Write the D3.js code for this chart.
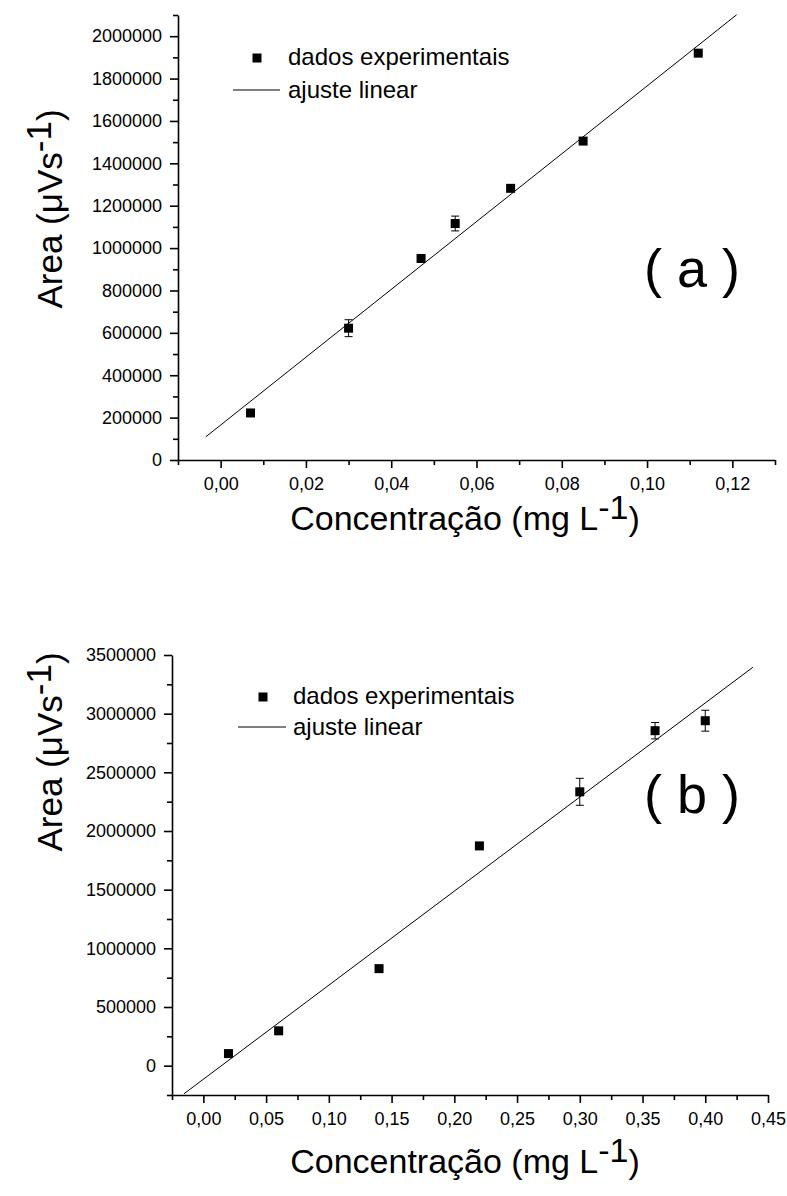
<!DOCTYPE html>
<html>
<head>
<meta charset="utf-8">
<script src="https://cdn.jsdelivr.net/npm/d3@7"></script>
<style>
  body { margin: 0; background: #fff; }
  svg text { font-family: Arial, "Liberation Sans", Helvetica, sans-serif; }
  .axis path, .axis line { stroke: #000; stroke-width: 1.6; }
  .axis text { font-size: 18px; fill: #000; font-family: Arial, "Liberation Sans", Helvetica, sans-serif; }
</style>
</head>
<body>
<svg width="787" height="1196"></svg>
<script>
// panel (a)
const concA = [0.007, 0.030, 0.047, 0.055, 0.068, 0.085, 0.112];
const areaA = [222000, 622000, 951000, 1116000, 1282000, 1505000, 1920000];
const errA = [8000, 40000, 8000, 35000, 8000, 8000, 8000];
const fitXA = [-0.0035, 0.121];
const fitYA = [109000, 2101000];
const xTicksA = [0, 0.02, 0.04, 0.06, 0.08, 0.10, 0.12];
const xMinorA = [-0.01, 0.01, 0.03, 0.05, 0.07, 0.09, 0.11, 0.13];
const yTicksA = [0, 200000, 400000, 600000, 800000, 1000000, 1200000, 1400000, 1600000, 1800000, 2000000];
const yMinorA = [100000, 300000, 500000, 700000, 900000, 1100000, 1300000, 1500000, 1700000, 1900000, 2100000];

// panel (b)
const concB = [0.02, 0.06, 0.14, 0.22, 0.30, 0.36, 0.40];
const areaB = [103000, 297000, 827000, 1873000, 2334000, 2855000, 2940000];
const errB = [10000, 10000, 10000, 10000, 115000, 70000, 89000];
const fitXB = [-0.0155, 0.438];
const fitYB = [-240000, 3396000];
const xTicksB = [0, 0.05, 0.10, 0.15, 0.20, 0.25, 0.30, 0.35, 0.40, 0.45];
const xMinorB = [-0.025, 0.025, 0.075, 0.125, 0.175, 0.225, 0.275, 0.325, 0.375, 0.425];
const yTicksB = [0, 500000, 1000000, 1500000, 2000000, 2500000, 3000000, 3500000];
const yMinorB = [-250000, 250000, 750000, 1250000, 1750000, 2250000, 2750000, 3250000];

const legendLabels = ["dados experimentais", "ajuste linear"];
const panelLabels = ["( a )", "( b )"];

const svg = d3.select("svg");
const fmtX = (d) => d3.format(".2f")(d).replace(".", ",");

function drawPanel(p) {
  const x = d3.scaleLinear().domain(p.xDomain).range([p.left, p.right]);
  const y = d3.scaleLinear().domain(p.yDomain).range([p.bottom, p.top]);
  const g = svg.append("g");

  // minor ticks
  g.append("g").attr("class", "axis")
    .attr("transform", `translate(0,${p.bottom})`)
    .call(d3.axisBottom(x).tickValues(p.xMinor).tickSize(5).tickFormat(""))
    .select(".domain").remove();
  g.append("g").attr("class", "axis")
    .attr("transform", `translate(${p.left},0)`)
    .call(d3.axisLeft(y).tickValues(p.yMinor).tickSize(5).tickFormat(""))
    .select(".domain").remove();

  // major ticks
  g.append("g").attr("class", "axis")
    .attr("transform", `translate(0,${p.bottom})`)
    .call(d3.axisBottom(x).tickValues(p.xTicks).tickSize(8).tickSizeOuter(0).tickPadding(9).tickFormat(fmtX));
  g.append("g").attr("class", "axis")
    .attr("transform", `translate(${p.left},0)`)
    .call(d3.axisLeft(y).tickValues(p.yTicks).tickSize(8).tickSizeOuter(0).tickPadding(8).tickFormat(d3.format("d")));

  // fit line
  g.append("path")
    .datum(p.fitX.map((v, i) => [v, p.fitY[i]]))
    .attr("fill", "none").attr("stroke", "#000").attr("stroke-width", 1)
    .attr("d", d3.line().x((d) => x(d[0])).y((d) => y(d[1])));

  const pts = p.conc.map((c, i) => ({ c: c, a: p.area[i], e: p.err[i] }));

  // error bars
  const eb = g.selectAll(".eb").data(pts).enter().append("g")
    .attr("stroke", "#000").attr("stroke-width", 1);
  eb.append("line")
    .attr("x1", (d) => x(d.c)).attr("x2", (d) => x(d.c))
    .attr("y1", (d) => y(d.a - d.e)).attr("y2", (d) => y(d.a + d.e));
  eb.append("line")
    .attr("x1", (d) => x(d.c) - 4).attr("x2", (d) => x(d.c) + 4)
    .attr("y1", (d) => y(d.a + d.e)).attr("y2", (d) => y(d.a + d.e));
  eb.append("line")
    .attr("x1", (d) => x(d.c) - 4).attr("x2", (d) => x(d.c) + 4)
    .attr("y1", (d) => y(d.a - d.e)).attr("y2", (d) => y(d.a - d.e));

  // markers
  g.selectAll(".pt").data(pts).enter().append("rect")
    .attr("x", (d) => x(d.c) - 4.5).attr("y", (d) => y(d.a) - 4.5)
    .attr("width", 9).attr("height", 9).attr("fill", "#000");

  // legend
  const lg = g.append("g").attr("font-size", 24);
  lg.append("rect")
    .attr("x", p.leg.sqX - 4.5).attr("y", p.leg.sqY - 4.5)
    .attr("width", 9).attr("height", 9).attr("fill", "#000");
  lg.append("text").attr("x", p.leg.textX).attr("y", p.leg.sqY + 7).text(legendLabels[0]);
  lg.append("line")
    .attr("x1", p.leg.lineX1).attr("x2", p.leg.lineX2)
    .attr("y1", p.leg.lineY).attr("y2", p.leg.lineY)
    .attr("stroke", "#000").attr("stroke-width", 1);
  lg.append("text").attr("x", p.leg.textX).attr("y", p.leg.lineY + 8).text(legendLabels[1]);

  // panel tag
  g.append("text").attr("x", p.tagX).attr("y", p.tagY)
    .attr("font-size", 54).attr("text-anchor", "middle").text(p.tag);

  // x title
  const xt = g.append("text").attr("x", p.xTitleX).attr("y", p.xTitleY)
    .attr("font-size", 34).attr("text-anchor", "middle");
  xt.append("tspan").text("Concentração (mg L");
  xt.append("tspan").attr("dy", -11).text("-1");
  xt.append("tspan").attr("dy", 11).text(")");

  // y title
  const yt = g.append("text")
    .attr("transform", `translate(${p.yTitleX},${p.yTitleY}) rotate(-90)`)
    .attr("font-size", 35).attr("text-anchor", "middle");
  yt.append("tspan").text("Area (μVs");
  yt.append("tspan").attr("dy", -11).text("-1");
  yt.append("tspan").attr("dy", 11).text(")");
}

drawPanel({
  conc: concA, area: areaA, err: errA, fitX: fitXA, fitY: fitYA,
  xDomain: [-0.01, 0.13], yDomain: [0, 2100000],
  left: 178, right: 775, top: 15, bottom: 460,
  xTicks: xTicksA, xMinor: xMinorA, yTicks: yTicksA, yMinor: yMinorA,
  leg: { sqX: 257, sqY: 58, textX: 288, lineX1: 233, lineX2: 280, lineY: 90 },
  tag: panelLabels[0], tagX: 692, tagY: 287,
  xTitleX: 465, xTitleY: 530, yTitleX: 62, yTitleY: 209
});

drawPanel({
  conc: concB, area: areaB, err: errB, fitX: fitXB, fitY: fitYB,
  xDomain: [-0.025, 0.45], yDomain: [-250000, 3500000],
  left: 172, right: 768, top: 655, bottom: 1095,
  xTicks: xTicksB, xMinor: xMinorB, yTicks: yTicksB, yMinor: yMinorB,
  leg: { sqX: 263, sqY: 697, textX: 293, lineX1: 238, lineX2: 286, lineY: 727 },
  tag: panelLabels[1], tagX: 692, tagY: 813,
  xTitleX: 465, xTitleY: 1173, yTitleX: 62, yTitleY: 752
});
</script>
</body>
</html>
